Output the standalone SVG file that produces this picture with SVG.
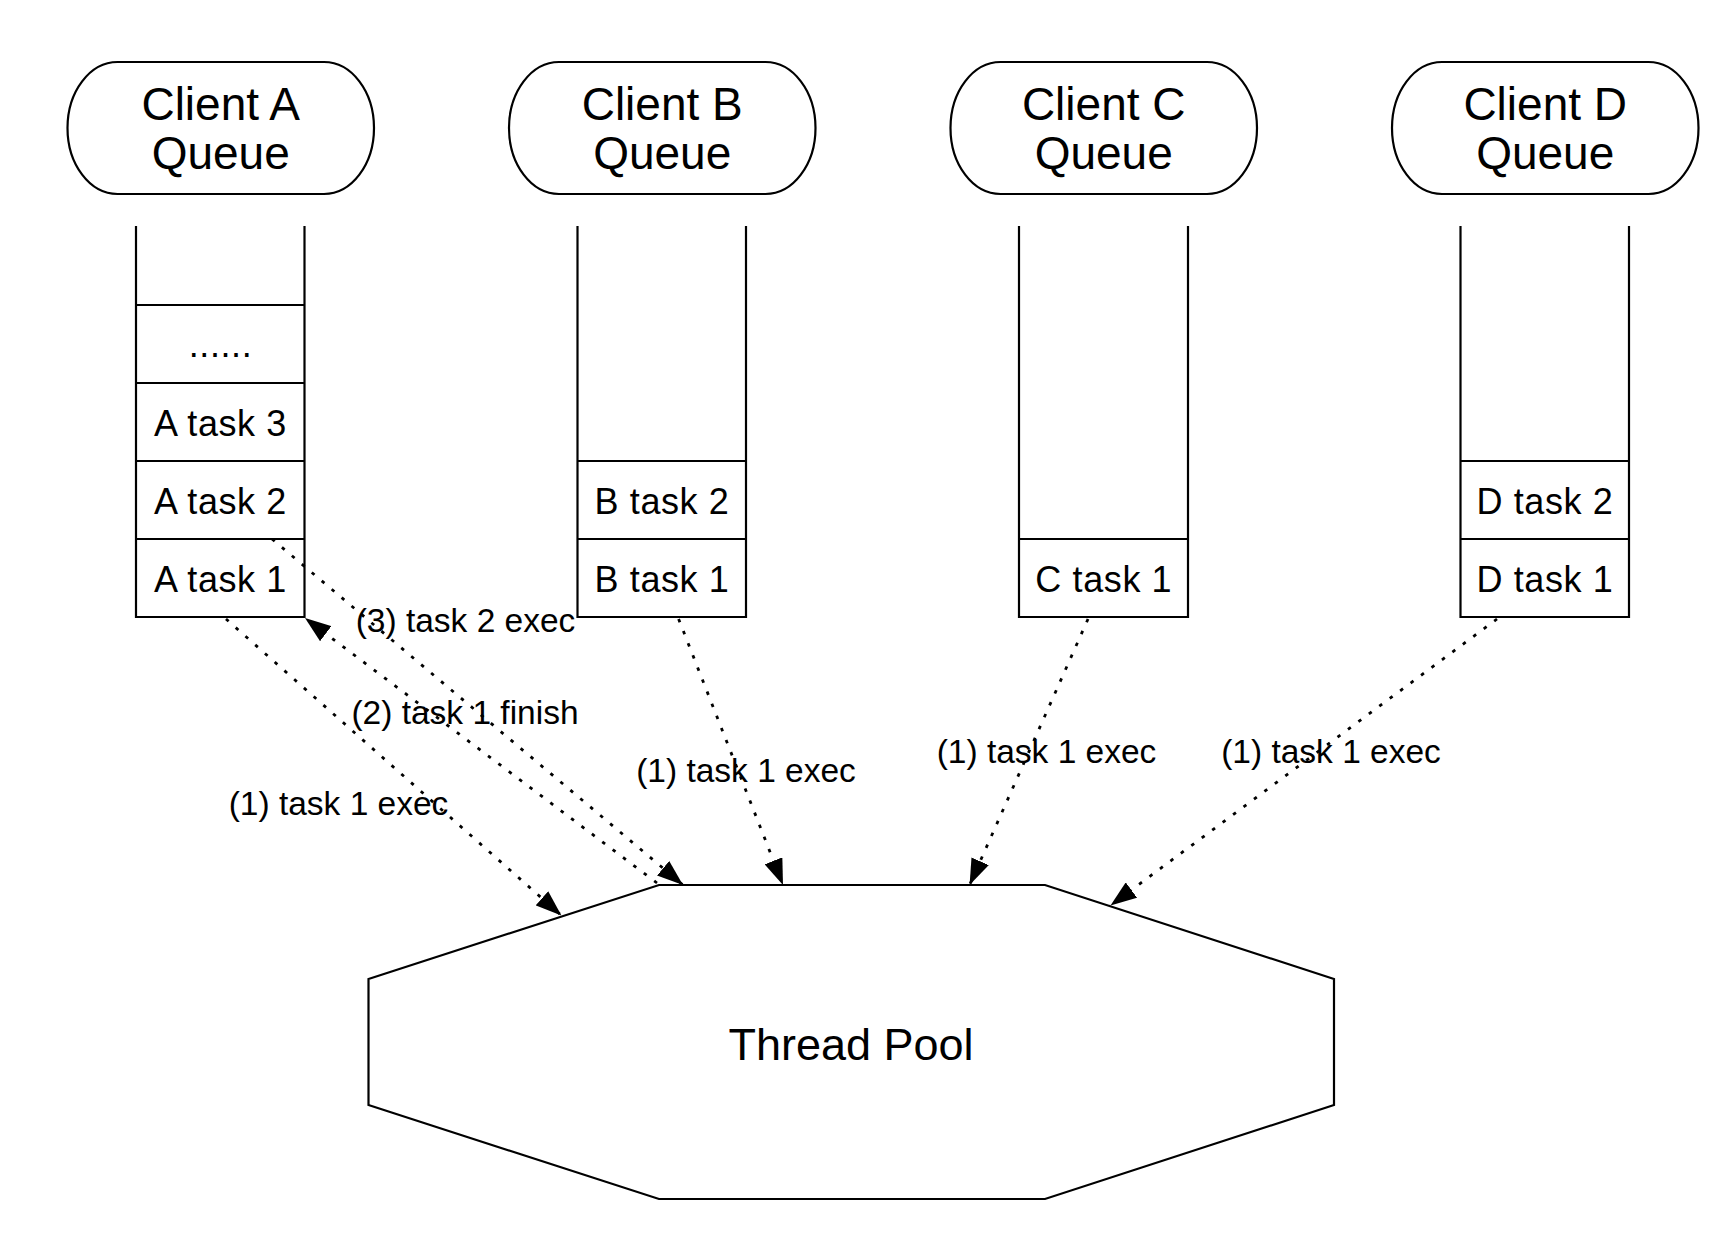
<svg xmlns="http://www.w3.org/2000/svg" width="1729" height="1258" viewBox="0 0 1729 1258">
<style>
.shape{fill:#fff;stroke:#000;stroke-width:2.2}
.stack{fill:none;stroke:#000;stroke-width:2.2}
.title{font-family:"Liberation Sans",Arial,sans-serif;font-size:46px;text-anchor:middle;fill:#000}
.cell{font-family:"Liberation Sans",Arial,sans-serif;font-size:36px;letter-spacing:0.6px;text-anchor:middle;fill:#000}
.lbl{font-family:"Liberation Sans",Arial,sans-serif;font-size:33.5px;text-anchor:middle;fill:#000}
.pool{font-family:"Liberation Sans",Arial,sans-serif;font-size:45px;text-anchor:middle;fill:#000}
.edge{fill:none;stroke:#000;stroke-width:2.8;stroke-dasharray:3.5 9.5}
</style>
<defs>
<marker id="arr" markerUnits="userSpaceOnUse" viewBox="0 0 26 19" refX="26" refY="9.5" markerWidth="26" markerHeight="19" orient="auto">
<path d="M0,0 L26,9.5 L0,19 Z" fill="#000"/>
</marker>
</defs>
<rect width="1729" height="1258" fill="#fff"/>

<g id="clientA">
<rect class="shape" x="67.5" y="62" width="306.5" height="132" rx="50" ry="66"/>
<text class="title" x="220.7" y="119.8">Client A</text>
<text class="title" x="220.7" y="168.8">Queue</text>
</g>
<g id="clientB">
<rect class="shape" x="509" y="62" width="306.5" height="132" rx="50" ry="66"/>
<text class="title" x="662.2" y="119.8">Client B</text>
<text class="title" x="662.2" y="168.8">Queue</text>
</g>
<g id="clientC">
<rect class="shape" x="950.5" y="62" width="306.5" height="132" rx="50" ry="66"/>
<text class="title" x="1103.7" y="119.8">Client C</text>
<text class="title" x="1103.7" y="168.8">Queue</text>
</g>
<g id="clientD">
<rect class="shape" x="1392" y="62" width="306.5" height="132" rx="50" ry="66"/>
<text class="title" x="1545.2" y="119.8">Client D</text>
<text class="title" x="1545.2" y="168.8">Queue</text>
</g>

<g id="queueA">
<path class="stack" d="M136,226 V617 H304.5 V226 M136,305 H304.5 M136,383 H304.5 M136,461 H304.5 M136,539 H304.5"/>
<text class="cell" x="220.5" y="357">......</text>
<text class="cell" x="220.5" y="435.5">A task 3</text>
<text class="cell" x="220.5" y="513.5">A task 2</text>
<text class="cell" x="220.5" y="591.5">A task 1</text>
</g>
<g id="queueB">
<path class="stack" d="M577.5,226 V617 H746 V226 M577.5,461 H746 M577.5,539 H746"/>
<text class="cell" x="662" y="513.5">B task 2</text>
<text class="cell" x="662" y="591.5">B task 1</text>
</g>
<g id="queueC">
<path class="stack" d="M1019,226 V617 H1188 V226 M1019,539 H1188"/>
<text class="cell" x="1103.8" y="591.5">C task 1</text>
</g>
<g id="queueD">
<path class="stack" d="M1460.5,226 V617 H1629 V226 M1460.5,461 H1629 M1460.5,539 H1629"/>
<text class="cell" x="1545" y="513.5">D task 2</text>
<text class="cell" x="1545" y="591.5">D task 1</text>
</g>

<g id="threadPool">
<polygon class="shape" points="659,885 1045,885 1334,979 1334,1105 1045,1199 659,1199 368.5,1105 368.5,979"/>
<text class="pool" x="851" y="1060">Thread Pool</text>
</g>

<g id="connectors">
<line class="edge" x1="226" y1="619" x2="561.4" y2="915.5" marker-end="url(#arr)"/>
<line class="edge" x1="272" y1="539" x2="683" y2="885" marker-end="url(#arr)"/>
<line class="edge" x1="657" y1="883" x2="305" y2="618" marker-end="url(#arr)"/>
<line class="edge" x1="678.6" y1="619" x2="783" y2="885" marker-end="url(#arr)"/>
<line class="edge" x1="1088" y1="619" x2="969.6" y2="885" marker-end="url(#arr)"/>
<line class="edge" x1="1497" y1="619" x2="1110.5" y2="905.5" marker-end="url(#arr)"/>
<text class="lbl" x="465.5" y="632">(3) task 2 exec</text>
<text class="lbl" x="465" y="723.5">(2) task 1 finish</text>
<text class="lbl" x="338.5" y="815">(1) task 1 exec</text>
<text class="lbl" x="746" y="781.7">(1) task 1 exec</text>
<text class="lbl" x="1046.5" y="763">(1) task 1 exec</text>
<text class="lbl" x="1331" y="763">(1) task 1 exec</text>
</g>
</svg>
